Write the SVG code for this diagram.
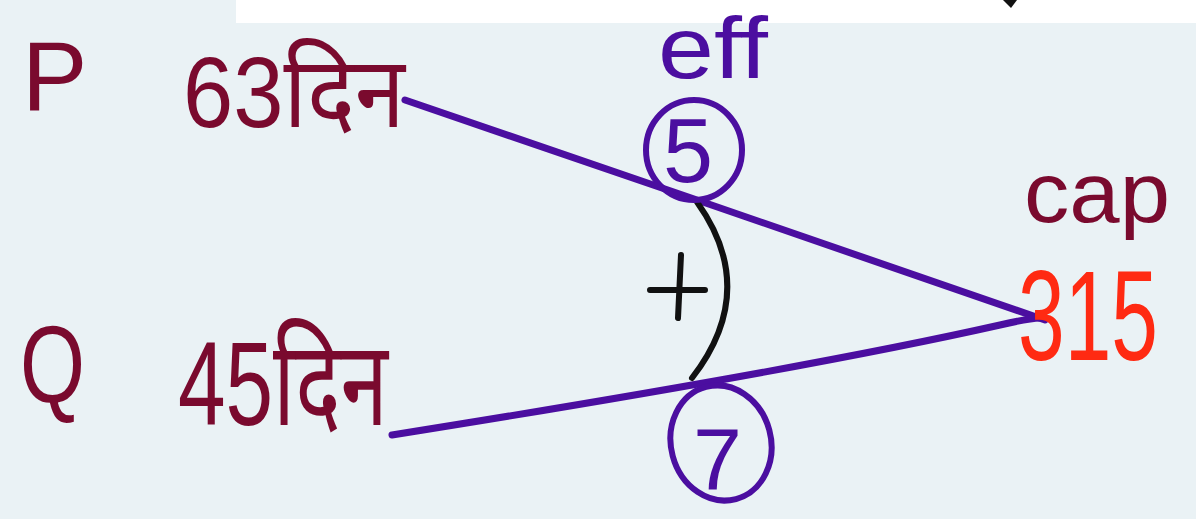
<svg xmlns="http://www.w3.org/2000/svg" width="1196" height="519" viewBox="0 0 1196 519">
<style>
.t{font-family:"Liberation Sans","Noto Sans","Noto Sans Devanagari",sans-serif;}
.m{fill:#7a0a2e;}
.p{fill:#4b0ea0;}
.r{fill:#ff2a12;}
.ln{fill:none;stroke:#4b0ea0;stroke-width:7;stroke-linecap:round;}
.ring{fill:none;stroke:#4b0ea0;stroke-width:6;}
.blk{fill:none;stroke:#111111;stroke-width:6;stroke-linecap:round;}
</style>
<rect x="0" y="0" width="1196" height="519" fill="#eaf2f5"/>
<rect x="236" y="0" width="960" height="23" fill="#ffffff"/>
<path d="M1003,0 L1017,0 L1011,8 Z" fill="#111111"/>
<g id="connectors">
<path class="ln" d="M405,100 L697,200 Q900,270 1045,320"/>
<path class="ln" d="M392,435 Q800,370 1000,325 Q1030,318 1040,318"/>
<path class="blk" d="M697,202 Q760,290 692,378"/>
</g>
<g id="P">
<text class="t m" x="22" y="110" font-size="98">P</text>
<text class="t m" x="183" y="127" font-size="100" textLength="222" lengthAdjust="spacingAndGlyphs">63दिन</text>
</g>
<g id="Q">
<text class="t m" x="20" y="402" font-size="110" textLength="65" lengthAdjust="spacingAndGlyphs">Q</text>
<text class="t m" x="178" y="425" font-size="118" textLength="210" lengthAdjust="spacingAndGlyphs">45दिन</text>
</g>
<g id="eff">
<text class="t p" x="658" y="78" font-size="88" textLength="110" lengthAdjust="spacingAndGlyphs">eff</text>
<ellipse class="ring" cx="694" cy="150" rx="48" ry="50"/>
<text class="t p" x="663" y="182" font-size="90">5</text>
</g>
<g id="seven">
<ellipse class="ring" cx="721" cy="443" rx="50" ry="58" transform="rotate(-15 721 443)"/>
<text class="t p" x="693" y="490" font-size="88">7</text>
</g>
<g id="plus">
<path class="blk" d="M650,290 L705,290 M681,255 L678,318"/>
</g>
<g id="cap">
<text class="t m" x="1024" y="222" font-size="86" textLength="146" lengthAdjust="spacingAndGlyphs">cap</text>
<text class="t r" x="1018" y="360" font-size="128" textLength="140" lengthAdjust="spacingAndGlyphs">315</text>
</g>
</svg>
